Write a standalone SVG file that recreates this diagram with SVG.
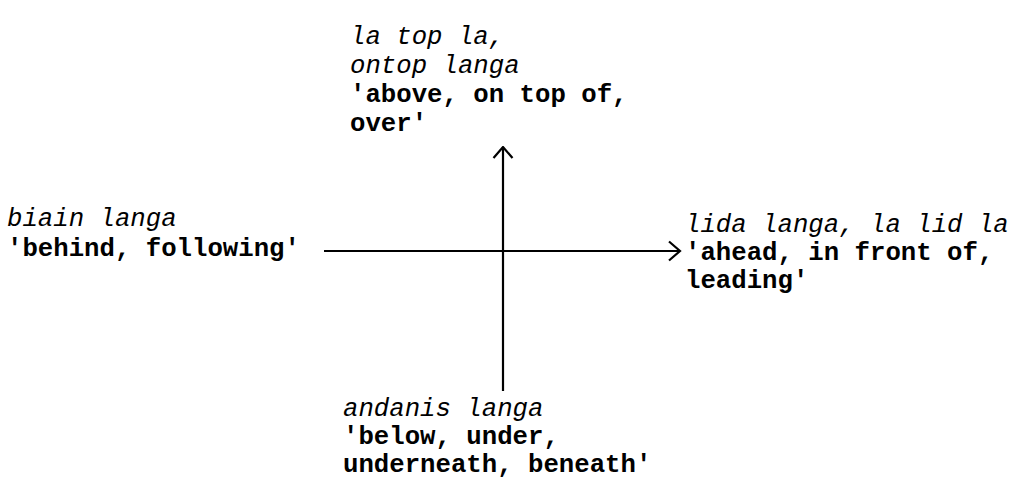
<svg xmlns="http://www.w3.org/2000/svg" width="1013" height="493" viewBox="0 0 1013 493">
  <style>
    text { font-family: "Liberation Mono", "DejaVu Sans Mono", monospace; font-size: 25.7px; fill: #000; }
    .it { font-style: italic; }
    .gl { font-weight: bold; }
    .axis { stroke: #000; stroke-width: 2.2; fill: none; }
  </style>
  <defs>
    <!-- open chevron arrowhead -->
    <marker id="chev" viewBox="0 0 14 22" refX="12.5" refY="11" markerWidth="14" markerHeight="22" markerUnits="userSpaceOnUse" orient="auto">
      <path d="M1.5,1.5 L12.5,11 L1.5,20.5" fill="none" stroke="#000" stroke-width="2.2"/>
    </marker>
  </defs>

  <!-- axes -->
  <g id="connectors">
    <line class="axis" x1="503" y1="391" x2="503" y2="147" marker-end="url(#chev)"/>
    <line class="axis" x1="324" y1="251" x2="680" y2="251" marker-end="url(#chev)"/>
  </g>

  <!-- up -->
  <g id="node-above">
    <text class="it" x="350" y="44">la top la,</text>
    <text class="it" x="350" y="73">ontop langa</text>
    <text class="gl" x="350" y="102">'above, on top of,</text>
    <text class="gl" x="350" y="131">over'</text>
  </g>

  <!-- left -->
  <g id="node-behind">
    <text class="it" x="7" y="226">biain langa</text>
    <text class="gl" x="7" y="256">'behind, following'</text>
  </g>

  <!-- right -->
  <g id="node-ahead">
    <text class="it" x="685" y="232">lida langa, la lid la</text>
    <text class="gl" x="685" y="260">'ahead, in front of,</text>
    <text class="gl" x="685" y="288">leading'</text>
  </g>

  <!-- down -->
  <g id="node-below">
    <text class="it" x="343" y="416">andanis langa</text>
    <text class="gl" x="343" y="444">'below, under,</text>
    <text class="gl" x="343" y="472">underneath, beneath'</text>
  </g>
</svg>
